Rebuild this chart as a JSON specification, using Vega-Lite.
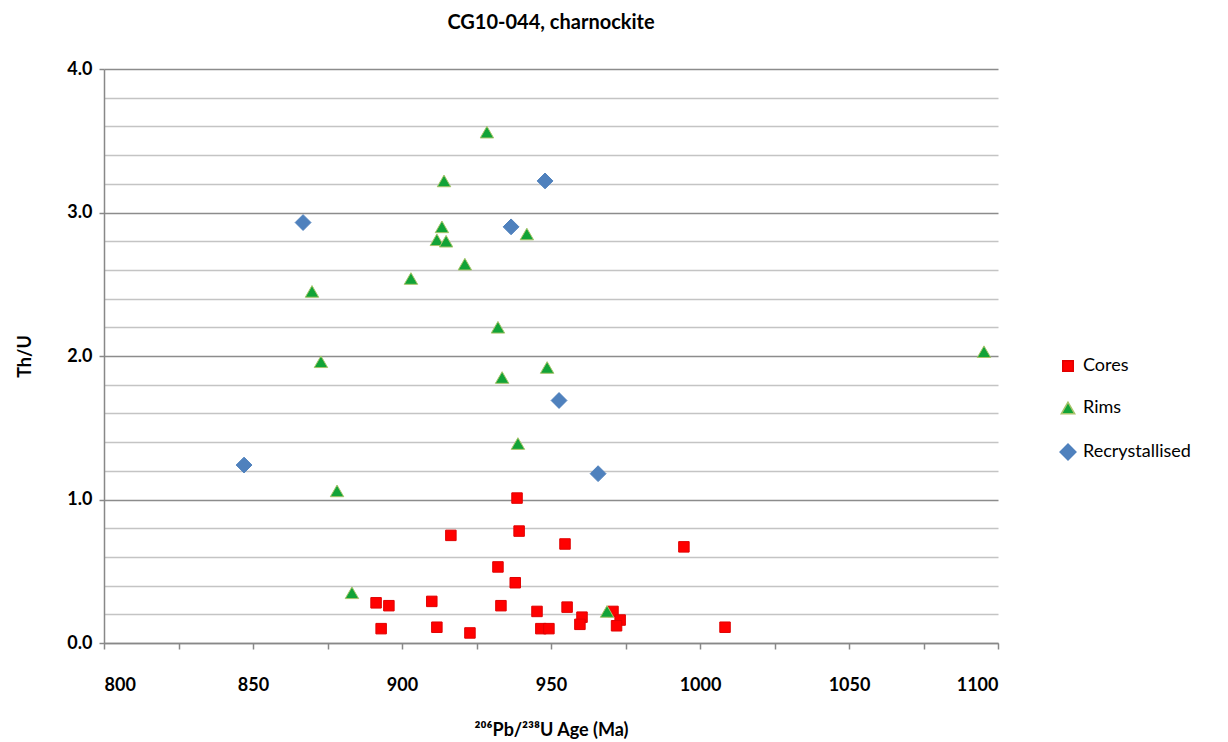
{
  "$schema": "https://vega.github.io/schema/vega-lite/v6.json",
  "width": 894,
  "height": 574,
  "autosize": {"type": "none"},
  "padding": {"left": 104, "top": 69, "right": 230, "bottom": 99},
  "background": "white",
  "config": {"view": {"stroke": null}, "font": "Lato"},
  "title": {"text": "CG10-044, charnockite", "fontSize": 20, "fontWeight": "bold", "font": "Lato", "anchor": "middle", "offset": 27, "color": "#000"},
  "data": {"values": [
    {"type": "Cores", "age": 938.6, "thu": 1.01},
    {"type": "Cores", "age": 939.3, "thu": 0.78},
    {"type": "Cores", "age": 916.4, "thu": 0.75},
    {"type": "Cores", "age": 954.7, "thu": 0.69},
    {"type": "Cores", "age": 994.6, "thu": 0.67},
    {"type": "Cores", "age": 932.2, "thu": 0.53},
    {"type": "Cores", "age": 938.0, "thu": 0.42},
    {"type": "Cores", "age": 891.3, "thu": 0.28},
    {"type": "Cores", "age": 895.6, "thu": 0.26},
    {"type": "Cores", "age": 910.0, "thu": 0.29},
    {"type": "Cores", "age": 933.2, "thu": 0.26},
    {"type": "Cores", "age": 945.3, "thu": 0.22},
    {"type": "Cores", "age": 955.4, "thu": 0.25},
    {"type": "Cores", "age": 970.8, "thu": 0.22},
    {"type": "Cores", "age": 973.2, "thu": 0.16},
    {"type": "Cores", "age": 972.0, "thu": 0.12},
    {"type": "Cores", "age": 960.4, "thu": 0.18},
    {"type": "Cores", "age": 959.7, "thu": 0.13},
    {"type": "Cores", "age": 893.0, "thu": 0.10},
    {"type": "Cores", "age": 911.7, "thu": 0.11},
    {"type": "Cores", "age": 922.8, "thu": 0.07},
    {"type": "Cores", "age": 946.6, "thu": 0.10},
    {"type": "Cores", "age": 949.3, "thu": 0.10},
    {"type": "Cores", "age": 1008.4, "thu": 0.11},
    {"type": "Rims", "age": 928.5, "thu": 3.56},
    {"type": "Rims", "age": 914.1, "thu": 3.22},
    {"type": "Rims", "age": 913.4, "thu": 2.90},
    {"type": "Rims", "age": 911.7, "thu": 2.81},
    {"type": "Rims", "age": 914.8, "thu": 2.80},
    {"type": "Rims", "age": 941.9, "thu": 2.85},
    {"type": "Rims", "age": 921.1, "thu": 2.64},
    {"type": "Rims", "age": 903.0, "thu": 2.54},
    {"type": "Rims", "age": 869.8, "thu": 2.45},
    {"type": "Rims", "age": 932.2, "thu": 2.20},
    {"type": "Rims", "age": 872.8, "thu": 1.96},
    {"type": "Rims", "age": 948.7, "thu": 1.92},
    {"type": "Rims", "age": 933.6, "thu": 1.85},
    {"type": "Rims", "age": 938.9, "thu": 1.39},
    {"type": "Rims", "age": 878.2, "thu": 1.06},
    {"type": "Rims", "age": 1095.3, "thu": 2.03},
    {"type": "Rims", "age": 883.2, "thu": 0.35},
    {"type": "Rims", "age": 968.8, "thu": 0.22},
    {"type": "Recrystallised", "age": 866.8, "thu": 2.93},
    {"type": "Recrystallised", "age": 948.0, "thu": 3.22},
    {"type": "Recrystallised", "age": 936.6, "thu": 2.90},
    {"type": "Recrystallised", "age": 952.7, "thu": 1.69},
    {"type": "Recrystallised", "age": 847.0, "thu": 1.24},
    {"type": "Recrystallised", "age": 965.8, "thu": 1.18}
  ]},
  "mark": {"type": "point", "filled": true, "opacity": 1, "strokeWidth": 1},
  "encoding": {
    "x": {
      "field": "age", "type": "quantitative",
      "scale": {"domain": [800, 1100], "nice": false, "zero": false},
      "axis": {
        "values": [800, 825, 850, 875, 900, 925, 950, 975, 1000, 1025, 1050, 1075, 1100],
        "labelExpr": "datum.value % 50 === 0 ? format(datum.value, 'd') : ''",
        "grid": false,
        "domainColor": "#888888", "domainWidth": 1.5,
        "tickColor": "#888888", "tickSize": 6, "tickWidth": 1.5,
        "labelFont": "Lato", "labelFontSize": 18, "labelFontWeight": "bold", "labelColor": "#000",
        "labelPadding": 27,
        "title": "²⁰⁶Pb/²³⁸U  Age (Ma)",
        "titleFont": "Lato", "titleFontSize": 18, "titleFontWeight": "bold", "titleColor": "#000",
        "titlePadding": 27
      }
    },
    "y": {
      "field": "thu", "type": "quantitative",
      "scale": {"domain": [0, 4], "nice": false},
      "axis": {
        "values": [0, 0.2, 0.4, 0.6, 0.8, 1, 1.2, 1.4, 1.6, 1.8, 2, 2.2, 2.4, 2.6, 2.8, 3, 3.2, 3.4, 3.6, 3.8, 4],
        "labelExpr": "abs(datum.value - round(datum.value)) < 0.001 ? format(datum.value, '.1f') : ''",
        "grid": true,
        "gridColor": {"condition": {"test": "abs(datum.value - round(datum.value)) < 0.001", "value": "#8c8c8c"}, "value": "#c4c4c4"},
        "gridWidth": 1.5,
        "domainColor": "#888888", "domainWidth": 1.5,
        "tickColor": "#888888", "tickSize": 5, "tickWidth": 1.5,
        "tickOpacity": {"condition": {"test": "abs(datum.value - round(datum.value)) < 0.001", "value": 1}, "value": 0},
        "labelFont": "Lato", "labelFontSize": 18, "labelFontWeight": "bold", "labelColor": "#000",
        "labelPadding": 7,
        "title": "Th/U",
        "titleFont": "Lato", "titleFontSize": 18, "titleFontWeight": "bold", "titleColor": "#000",
        "titlePadding": 32
      }
    },
    "shape": {
      "field": "type", "type": "nominal",
      "scale": {"domain": ["Cores", "Rims", "Recrystallised"], "range": ["square", "triangle-up", "diamond"]},
      "legend": {
        "title": null, "orient": "none", "legendX": 955, "legendY": 288,
        "labelFont": "Lato", "labelFontSize": 18, "labelColor": "#000", "labelOffset": 6,
        "symbolSize": 150, "rowPadding": 24, "padding": 0
      }
    },
    "fill": {
      "field": "type", "type": "nominal",
      "scale": {"domain": ["Cores", "Rims", "Recrystallised"], "range": ["#FF0000", "#12A337", "#4F81BD"]}
    },
    "stroke": {
      "field": "type", "type": "nominal",
      "scale": {"domain": ["Cores", "Rims", "Recrystallised"], "range": ["#E00000", "#A8C46A", "#4F81BD"]}
    },
    "size": {
      "field": "type", "type": "nominal",
      "scale": {"domain": ["Cores", "Rims", "Recrystallised"], "range": [110, 250, 270]}
    }
  }
}
